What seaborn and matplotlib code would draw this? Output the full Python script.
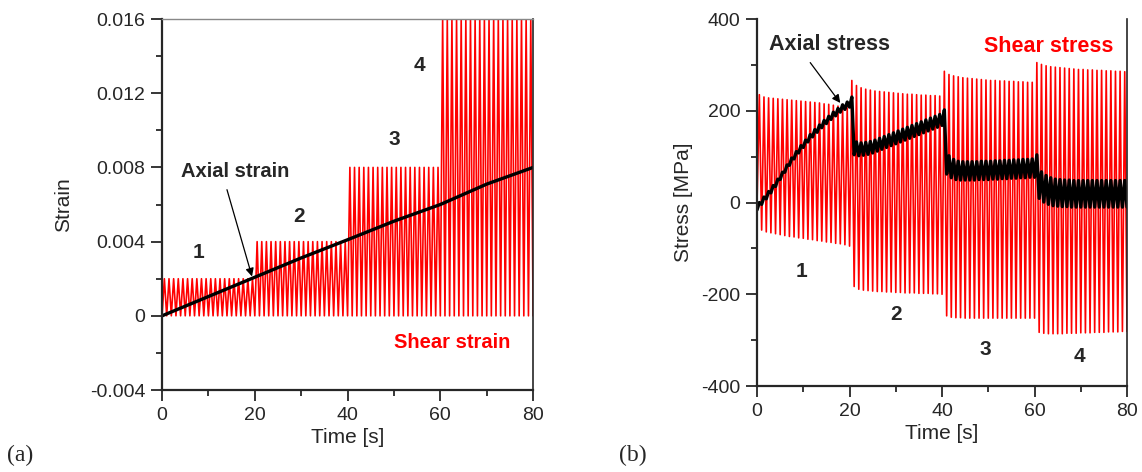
import numpy as np
import pandas as pd
import matplotlib
matplotlib.use("Agg")
import matplotlib.pyplot as plt
import seaborn as sns
from matplotlib.ticker import MultipleLocator

# ---------------- data ----------------
cycles_per_block = 20          # loading cycles in each block (1 s period)
block_labels = ["1", "2", "3", "4"]

# shear strain amplitude in each block (strain goes 0 -> amplitude -> 0)
shear_strain_amp = [0.002, 0.004, 0.008, 0.016]

# axial strain (ratcheting) read every 10 s
axial_strain_time = [0, 10, 20, 30, 40, 50, 60, 70, 80]
axial_strain = [0.0, 0.00104, 0.00208, 0.00312, 0.0041, 0.0051, 0.0060, 0.0071, 0.0080]

# shear stress peaks per cycle (MPa), maxima at t = k + 0.5, minima at t = k + 1
shear_stress_max = [
    [235, 230, 228, 227, 226, 225, 224, 223, 222, 221, 220, 219, 218, 217, 215, 214, 212, 210, 208, 206],
    [266, 255, 250, 247, 245, 243, 242, 241, 240, 239, 238, 237, 236, 236, 235, 234, 234, 233, 233, 232],
    [286, 279, 276, 274, 272, 271, 270, 269, 268, 267, 266, 266, 265, 265, 264, 264, 263, 263, 262, 262],
    [305, 301, 298, 296, 295, 294, 293, 292, 291, 290, 290, 289, 289, 288, 288, 287, 287, 286, 286, 285],
]
shear_stress_min = [
    [-60, -64, -66, -68, -70, -72, -74, -75, -77, -78, -80, -81, -83, -84, -86, -87, -89, -90, -92, -95],
    [-183, -189, -191, -192, -193, -194, -194, -195, -195, -196, -196, -197, -197, -197, -198, -198, -198, -199, -199, -200],
    [-247, -250, -251, -251, -252, -252, -252, -252, -252, -252, -252, -252, -252, -252, -252, -252, -252, -252, -252, -252],
    [-283, -285, -286, -286, -286, -286, -285, -285, -285, -284, -284, -284, -283, -283, -283, -282, -282, -282, -281, -281],
]

# axial stress, cycle-mean value at each whole second t = 0..80 (MPa)
axial_stress_mean = (
    [-8, 4, 16, 29, 43, 58, 74, 89, 103, 116, 128, 140, 151, 161, 171, 180, 189, 197, 205, 211, 216]
    + [118, 116, 117, 119, 122, 126, 130, 134, 138, 142, 146, 150, 154, 158, 162, 166, 170, 174, 178, 182]
    + [82, 74, 70, 69, 69, 69, 69, 70, 70, 70, 71, 71, 72, 72, 73, 73, 74, 74, 75, 75]
    + [38, 30, 25, 22, 21, 20, 20, 19, 19, 19, 19, 19, 19, 19, 19, 19, 19, 19, 19, 19]
)
# half-amplitude of the axial stress ripple in each block (MPa)
axial_stress_ripple = [8, 14, 20, 29]

# ---------------- build the signals ----------------
n_cycles = cycles_per_block * len(shear_strain_amp)

strain_t, strain_v = [0.0], [0.0]
for k in range(n_cycles):
    b = k // cycles_per_block
    strain_t += [k + 0.5, k + 1.0]
    strain_v += [shear_strain_amp[b], 0.0]
df_shear_strain = pd.DataFrame({"t": strain_t, "v": strain_v})
df_axial_strain = pd.DataFrame({"t": axial_strain_time, "v": axial_strain})

stress_t, stress_v = [0.0], [0.0]
for k in range(n_cycles):
    b, i = divmod(k, cycles_per_block)
    stress_t += [k + 0.5, k + 1.0]
    stress_v += [shear_stress_max[b][i], shear_stress_min[b][i]]
df_shear_stress = pd.DataFrame({"t": stress_t, "v": stress_v})

ax_t, ax_v = [], []
for k in range(n_cycles):
    b = k // cycles_per_block
    bl = max(k - 1, 0) // cycles_per_block
    ax_t += [k, k + 0.5]
    ax_v += [axial_stress_mean[k] - axial_stress_ripple[bl], axial_stress_mean[k] + axial_stress_ripple[b]]
ax_t.append(n_cycles)
ax_v.append(axial_stress_mean[-1] - axial_stress_ripple[-1])
df_axial_stress = pd.DataFrame({"t": ax_t, "v": ax_v})

# ---------------- figure ----------------
sns.set_style("ticks")
plt.rcParams["font.family"] = ["Liberation Sans", "DejaVu Sans"]
plt.rcParams["axes.linewidth"] = 1.5
plt.rcParams["axes.unicode_minus"] = False

fig = plt.figure(figsize=(11.42, 4.72), dpi=100)
axA = fig.add_axes([0.1419, 0.1737, 0.3249, 0.7860])
axB = fig.add_axes([0.6629, 0.1822, 0.3240, 0.7775])

RED = "#ff0000"
arrow_style = dict(arrowstyle="-|>", color="black", lw=0.9,
                   shrinkA=0, shrinkB=0, mutation_scale=12)

# (a) strain
sns.lineplot(data=df_shear_strain, x="t", y="v", ax=axA, color=RED, lw=1.2,
             estimator=None, sort=False)
sns.lineplot(data=df_axial_strain, x="t", y="v", ax=axA, color="black", lw=2.4,
             estimator=None, sort=False)
axA.set_xlim(0, 80)
axA.set_ylim(-0.004, 0.016)
axA.yaxis.set_major_locator(MultipleLocator(0.004))
axA.yaxis.set_minor_locator(MultipleLocator(0.002))
axA.set_yticks([-0.004, 0, 0.004, 0.008, 0.012, 0.016])
axA.set_yticklabels(["-0.004", "0", "0.004", "0.008", "0.012", "0.016"])
axA.set_ylabel("Strain", fontsize=15, labelpad=12)
axA.spines["top"].set_color("#888888")
axA.spines["top"].set_linewidth(1.0)
axA.spines["right"].set_linewidth(1.2)

strain_label_pos = [(7.8, 0.00344), (29.6, 0.00537), (50.0, 0.00951), (55.6, 0.01348)]
for lab, (x, y) in zip(block_labels, strain_label_pos):
    axA.text(x, y, lab, fontsize=15, fontweight="bold", ha="center", va="center")
axA.text(15.8, 0.0078, "Axial strain", fontsize=14.5, fontweight="bold",
         ha="center", va="center")
axA.annotate("", xy=(19.4, 0.00212), xytext=(14.0, 0.0068), arrowprops=arrow_style)
axA.text(62.6, -0.00142, "Shear strain", color=RED, fontsize=14.5,
         fontweight="bold", ha="center", va="center")

# (b) stress
sns.lineplot(data=df_shear_stress, x="t", y="v", ax=axB, color=RED, lw=1.2,
             estimator=None, sort=False)
sns.lineplot(data=df_axial_stress, x="t", y="v", ax=axB, color="black", lw=2.4,
             estimator=None, sort=False)
axB.set_xlim(0, 80)
axB.set_ylim(-400, 400)
axB.yaxis.set_major_locator(MultipleLocator(200))
axB.yaxis.set_minor_locator(MultipleLocator(100))
axB.set_ylabel("Stress [MPa]", fontsize=15, labelpad=6)
axB.spines["top"].set_visible(False)
axB.spines["right"].set_linewidth(1.2)

stress_label_pos = [(9.6, -150), (30.0, -244), (49.3, -320), (69.8, -335)]
for lab, (x, y) in zip(block_labels, stress_label_pos):
    axB.text(x, y, lab, fontsize=15, fontweight="bold", ha="center", va="center")
axB.text(15.6, 344, "Axial stress", fontsize=15.5, fontweight="bold",
         ha="center", va="center")
axB.annotate("", xy=(18.0, 217), xytext=(11.5, 305), arrowprops=arrow_style)
axB.text(63.0, 340, "Shear stress", color=RED, fontsize=15.5,
         fontweight="bold", ha="center", va="center")

for ax in (axA, axB):
    ax.xaxis.set_major_locator(MultipleLocator(20))
    ax.xaxis.set_minor_locator(MultipleLocator(10))
    ax.set_xlabel("Time [s]", fontsize=15, labelpad=3)
    ax.tick_params(which="major", direction="out", length=8, width=1.3,
                   labelsize=14, pad=4)
    ax.tick_params(which="minor", direction="out", length=4.5, width=1.3)
    ax.tick_params(top=False, right=False, which="both")
    for s in ("left", "bottom"):
        ax.spines[s].set_linewidth(1.6)

fig.text(20 / 1142, 1 - 455 / 472, "(a)", fontsize=17, family="Liberation Serif",
         ha="center", va="center")
fig.text(633 / 1142, 1 - 455 / 472, "(b)", fontsize=17, family="Liberation Serif",
         ha="center", va="center")

fig.savefig("out.png", dpi=100)
